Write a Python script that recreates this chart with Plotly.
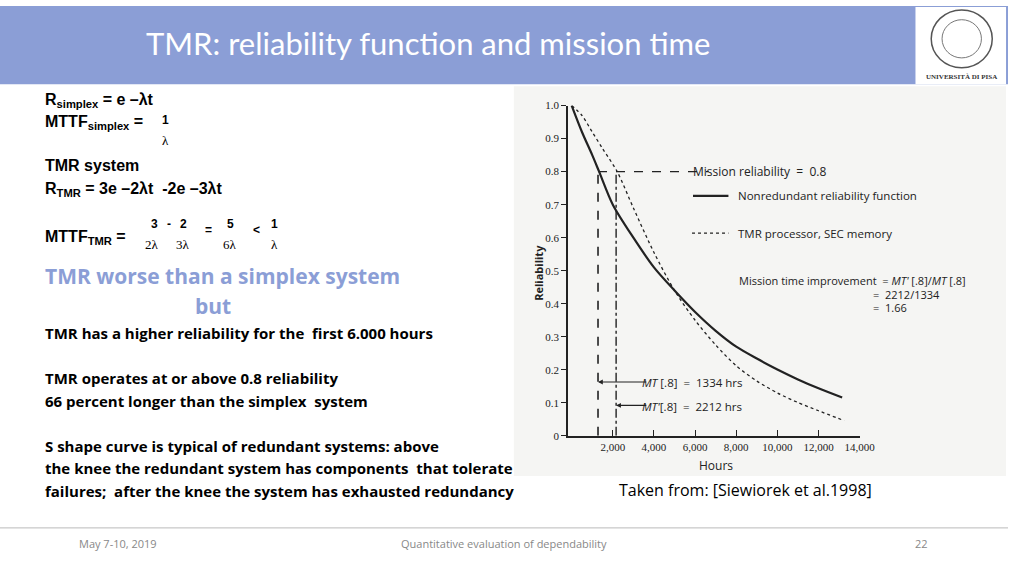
import plotly.graph_objects as go

hours_s = [0, 500, 1000, 1334, 2000, 3000, 4000, 5000, 6000, 7000, 8000, 9000, 10000, 11000, 12000, 13150]
rel_s = [1.0, 0.92, 0.85, 0.80, 0.70, 0.60, 0.51, 0.44, 0.375, 0.318, 0.27, 0.234, 0.201, 0.171, 0.144, 0.116]
hours_t = [0, 500, 1000, 1500, 2212, 3000, 4000, 5000, 6000, 7000, 8000, 9000, 10000, 11000, 12000, 13250]
rel_t = [1.0, 0.97, 0.92, 0.87, 0.80, 0.69, 0.555, 0.44, 0.35, 0.275, 0.212, 0.166, 0.13, 0.101, 0.076, 0.046]
x_ticks = [2000, 4000, 6000, 8000, 10000, 12000, 14000]
x_labels = ["2,000", "4,000", "6,000", "8,000", "10,000", "12,000", "14,000"]
y_ticks = [0, 0.1, 0.2, 0.3, 0.4, 0.5, 0.6, 0.7, 0.8, 0.9, 1.0]
y_labels = ["0", "0.1", "0.2", "0.3", "0.4", "0.5", "0.6", "0.7", "0.8", "0.9", "1.0"]
mission_r = 0.8
mt_s, mt_t = 1334, 2212
# plotted positions of the vertical mission lines (as drawn in the source figure)
mt_s_plot, mt_t_plot = 1280, 2160

W, H = 1024, 576
def px(x): return x / W
def py(y): return 1 - y / H

fig = go.Figure()
ink = "#222"
fig.add_trace(go.Scatter(x=hours_s, y=rel_s, mode="lines", line=dict(color=ink, width=2.2, shape="spline", smoothing=0.8), showlegend=False))
fig.add_trace(go.Scatter(x=hours_t, y=rel_t, mode="lines", line=dict(color=ink, width=1.3, dash="dot", shape="spline", smoothing=0.8), showlegend=False))
fig.add_trace(go.Scatter(x=[mt_s_plot, 6650], y=[mission_r, mission_r], mode="lines", line=dict(color=ink, width=1.4, dash="dash"), showlegend=False))
fig.add_trace(go.Scatter(x=[mt_s_plot, mt_s_plot], y=[0, mission_r], mode="lines", line=dict(color=ink, width=1.6, dash="dash"), showlegend=False))
fig.add_trace(go.Scatter(x=[mt_t_plot, mt_t_plot], y=[0, mission_r], mode="lines", line=dict(color=ink, width=1.4, dash="dashdot"), showlegend=False))

shapes = [
    dict(type="rect", xref="paper", yref="paper", x0=0, x1=1, y0=py(80), y1=1, fillcolor="#8b9ed6", line_width=0, layer="below"),
    dict(type="rect", xref="paper", yref="paper", x0=px(930), x1=px(1022), y0=py(80), y1=py(1), fillcolor="white", line_width=0),
    dict(type="circle", xref="paper", yref="paper", x0=px(946), x1=px(1008), y0=py(63), y1=py(4), fillcolor="white", line=dict(color="#555", width=1.5)),
    dict(type="circle", xref="paper", yref="paper", x0=px(957), x1=px(997), y0=py(53), y1=py(14), fillcolor="white", line=dict(color="#777", width=1)),
    dict(type="rect", xref="paper", yref="paper", x0=px(522), x1=px(1022), y0=py(480), y1=py(82), fillcolor="#f5f5f3", line_width=0, layer="below"),
    dict(type="line", xref="paper", yref="paper", x0=0, x1=1, y0=py(533), y1=py(533), line=dict(color="#bbb", width=1)),
    dict(type="line", xref="paper", yref="paper", x0=px(704), x1=px(740), y0=py(194), y1=py(194), line=dict(color=ink, width=2.2)),
    dict(type="line", xref="paper", yref="paper", x0=px(703), x1=px(740), y0=py(232), y1=py(232), line=dict(color=ink, width=1.3, dash="dot")),
]

anns = []
def T(x, y, text, size=15, color="black", family="Liberation Sans", anchor="left", bold=False):
    if bold: text = "<b>" + text + "</b>"
    anns.append(dict(xref="paper", yref="paper", x=px(x), y=py(y), text=text, showarrow=False,
                     xanchor=anchor, yanchor="middle", font=dict(size=size, color=color, family=family)))

T(146, 38, "TMR: reliability function and mission time", 31, "white", "Lato")
T(977, 72, "UNIVERSITÀ DI PISA", 7, "#333", "Liberation Serif", "center", True)

T(44, 97, "R<sub>simplex</sub> = e –λt", 16, bold=True)
T(44, 119, "MTTF<sub>simplex</sub> =", 16, bold=True)
T(168, 116, "1", 12, anchor="center", bold=True)
T(168, 137, "λ", 13, anchor="center", family="Liberation Serif")
T(44, 163, "TMR system", 16, bold=True)
T(44, 187, "R<sub>TMR</sub> = 3e –2λt  -2e –3λt", 16, bold=True)
T(44, 236, "MTTF<sub>TMR</sub> =", 16, bold=True)
for x, t in [(157, "3"), (172, "-"), (186, "2"), (212, "="), (234, "5"), (261, "<"), (279, "1")]:
    T(x, 223 if t not in ("=", "<") else 229, t, 12, anchor="center", bold=True)
for x, t in [(154, "2λ"), (186, "3λ"), (234, "6λ"), (279, "λ")]:
    T(x, 244, t, 13, anchor="center", family="Liberation Serif")
T(44, 276, "TMR worse than a simplex system", 21, "#8b9ed6", "Open Sans", bold=True)
T(216, 306, "but", 21, "#8b9ed6", "Open Sans", "center", True)
cal = "Open Sans"
T(44, 334, "TMR has a higher reliability for the  first 6.000 hours", 15, family=cal, bold=True)
T(44, 380, "TMR operates at or above 0.8 reliability", 15, family=cal, bold=True)
T(44, 403, "66 percent longer than the simplex  system", 15, family=cal, bold=True)
T(44, 449, "S shape curve is typical of redundant systems: above", 15, family=cal, bold=True)
T(44, 472, "the knee the redundant system has components  that tolerate", 15, family=cal, bold=True)
T(44, 495, "failures;  after the knee the system has exhausted redundancy", 15, family=cal, bold=True)
T(627, 494, "Taken from: [Siewiorek et al.1998]", 16, family=cal)
T(78, 549, "May 7-10, 2019", 11, "#888", cal)
T(512, 549, "Quantitative evaluation of dependability", 11, "#888", cal, "center")
T(945, 549, "22", 11, "#888", cal, "right")

chart = "Liberation Sans Narrow"
T(702, 169, "Mission reliability  =  0.8", 12, ink, "Open Sans")
T(748, 194, "Nonredundant reliability function", 11.5, ink, "Open Sans")
T(748, 232, "TMR processor, SEC memory", 11.5, ink, "Open Sans")
T(749, 280, "Mission time improvement  = <i>MT'</i> [.8]/<i>MT</i> [.8]", 11, ink, "Open Sans")
T(885, 295, "=  2212/1334", 11, ink, "Open Sans")
T(885, 308, "=  1.66", 11, ink, "Open Sans")
T(650, 384, "<i>MT</i> [.8]  =  " + str(mt_s) + " hrs", 11.5, ink, "Open Sans")
T(650, 409, "<i>MT'</i>[.8]  =  " + str(mt_t) + " hrs", 11.5, ink, "Open Sans")
anns.append(dict(xref="x", yref="y", x=mt_s_plot, y=0.163, ax=3700, ay=0.163, axref="x", ayref="y",
                 showarrow=True, arrowhead=2, arrowsize=0.8, arrowwidth=1.2, arrowcolor=ink, text=""))
anns.append(dict(xref="x", yref="y", x=mt_t_plot, y=0.092, ax=3700, ay=0.092, axref="x", ayref="y",
                 showarrow=True, arrowhead=2, arrowsize=0.8, arrowwidth=1.2, arrowcolor=ink, text=""))
T(547, 272, "<b>Reliability</b>", 11, ink, "Open Sans", "center")
anns[-1]["textangle"] = -90
T(727, 469, "Hours", 12, ink, "Open Sans", "center")

fig.update_layout(
    width=W, height=H, autosize=False, margin=dict(l=0, r=0, t=0, b=0), paper_bgcolor="white", plot_bgcolor="rgba(0,0,0,0)",
    shapes=shapes, annotations=anns, showlegend=False,
    xaxis=dict(domain=[px(577), px(873.3)], range=[-180, 14000], tickvals=x_ticks, ticktext=x_labels,
               showgrid=False, zeroline=False, showline=True, linecolor=ink, linewidth=1.5,
               ticks="inside", ticklen=6, tickcolor=ink, tickfont=dict(size=11, color=ink, family=chart)),
    yaxis=dict(domain=[py(439), py(101.7)], range=[0, 1.0], tickvals=y_ticks, ticktext=y_labels,
               showgrid=False, zeroline=False, showline=True, linecolor=ink, linewidth=1.5,
               ticks="outside", ticklen=5, tickcolor=ink, tickfont=dict(size=11, color=ink, family=chart)),
)
post = ("document.body.style.margin='0';document.body.style.overflow='hidden';"
        "var gd=document.getElementById('{plot_id}');Plotly.relayout(gd,{width:1024,height:576});")
fig.write_html("out.html", config={"displayModeBar": False, "responsive": False}, post_script=post)
